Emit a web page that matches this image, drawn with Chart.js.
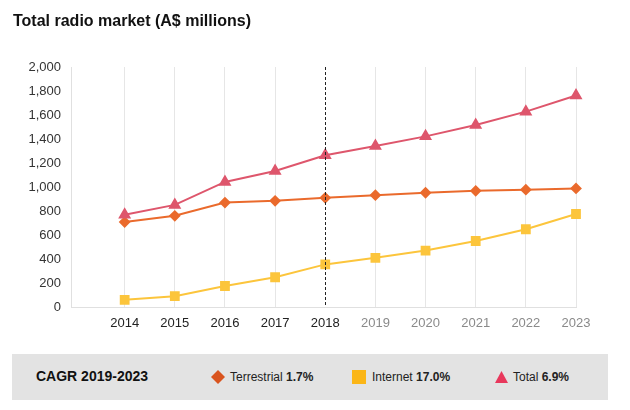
<!DOCTYPE html>
<html>
<head>
<meta charset="utf-8">
<script src="https://cdn.jsdelivr.net/npm/chart.js@4"></script>
<style>
  body { margin: 0; background: #fff; font-family: "Liberation Sans", Arial, sans-serif; }
  #wrap { position: relative; width: 630px; height: 410px; }
  #title { position: absolute; left: 13px; top: 12px; font-size: 16px; font-weight: bold; color: #111; }
  #chart { position: absolute; left: 0; top: 0; }
  #cagr { position: absolute; left: 12px; top: 354px; width: 596px; height: 46px; background: #e3e3e3; font-size: 12px; color: #222; }
  #cagr span.item { position: absolute; top: 16px; white-space: nowrap; }
  #cagr b { font-weight: bold; }
  .mark { position: absolute; }
</style>
</head>
<body>
<div id="wrap">
  <canvas id="chart" width="630" height="410"></canvas>
  <div id="title">Total radio market (A$ millions)</div>
  <div id="cagr">
    <span class="item" style="left:24px;top:14px;font-size:14px;font-weight:bold;color:#111">CAGR 2019-2023</span>
    <svg class="mark" style="left:199px;top:16px" width="14" height="14"><polygon points="7,0 14,7 7,14 0,7" fill="#d9541e"/></svg>
    <span class="item" style="left:218px">Terrestrial <b>1.7%</b></span>
    <svg class="mark" style="left:340px;top:16px" width="14" height="14"><rect x="0" y="0" width="14" height="14" fill="#fbb617"/></svg>
    <span class="item" style="left:360px">Internet <b>17.0%</b></span>
    <svg class="mark" style="left:483px;top:17px" width="13" height="12"><polygon points="6.5,0 13,12 0,12" fill="#e8385c"/></svg>
    <span class="item" style="left:501px">Total <b>6.9%</b></span>
  </div>
</div>
<script>
const years = [2014, 2015, 2016, 2017, 2018, 2019, 2020, 2021, 2022, 2023];
const terrestrial = [708, 760, 870, 885, 910, 932, 952, 968, 978, 988];
const internet = [60, 90, 175, 248, 355, 410, 470, 550, 648, 775];
const total = [768, 851, 1042, 1133, 1265, 1342, 1422, 1516, 1628, 1763];
const yTicks = [0, 200, 400, 600, 800, 1000, 1200, 1400, 1600, 1800, 2000];
const forecastStart = 2018;

const pts = arr => years.map((y, i) => ({ x: y, y: arr[i] }));

const dashLine = {
  id: 'dashLine',
  afterDatasetsDraw(chart) {
    const { ctx, chartArea, scales } = chart;
    const x = Math.round(scales.x.getPixelForValue(forecastStart)) + 0.5;
    ctx.save();
    ctx.strokeStyle = '#222';
    ctx.lineWidth = 1;
    ctx.setLineDash([3, 2]);
    ctx.beginPath();
    ctx.moveTo(x, chartArea.top);
    ctx.lineTo(x, chartArea.bottom);
    ctx.stroke();
    ctx.restore();
  }
};

Chart.defaults.font.family = '"Liberation Sans", Arial, sans-serif';

new Chart(document.getElementById('chart'), {
  type: 'line',
  data: {
    datasets: [
      {
        label: 'Total',
        data: pts(total),
        borderColor: '#de566c',
        backgroundColor: '#de566c',
        borderWidth: 2,
        pointStyle: 'triangle',
        pointRadius: 5.5,
        tension: 0,
        clip: false
      },
      {
        label: 'Terrestrial',
        data: pts(terrestrial),
        borderColor: '#ea6a2c',
        backgroundColor: '#ea6a2c',
        borderWidth: 2,
        pointStyle: 'rectRot',
        pointRadius: 4.5,
        tension: 0,
        clip: false
      },
      {
        label: 'Internet',
        data: pts(internet),
        borderColor: '#fcc53c',
        backgroundColor: '#fcc53c',
        borderWidth: 2,
        pointStyle: 'rect',
        pointRadius: 5.5,
        tension: 0,
        clip: false
      }
    ]
  },
  options: {
    responsive: false,
    animation: false,
    locale: 'en-US',
    layout: { padding: { top: 67, right: 54, bottom: 73, left: 0 } },
    scales: {
      x: {
        type: 'linear',
        min: 2012.93,
        max: 2023,
        afterBuildTicks: s => { s.ticks = years.map(v => ({ value: v })); },
        afterFit: s => { s.height = 30; },
        grid: {
          drawTicks: false,
          color: c => (c.tick && c.tick.value === forecastStart) ? 'rgba(0,0,0,0)' : '#e6e6e6'
        },
        border: { color: '#e0e0e0' },
        ticks: {
          padding: 9,
          font: { size: 13 },
          color: c => c.tick.value <= forecastStart ? '#222' : '#8a8a8a',
          callback: v => String(v),
          maxRotation: 0
        }
      },
      y: {
        min: 0,
        max: 2000,
        afterBuildTicks: s => { s.ticks = yTicks.map(v => ({ value: v })); },
        afterFit: s => { s.width = 71; },
        grid: { display: false, drawTicks: false },
        border: { color: '#e0e0e0' },
        ticks: { padding: 10, font: { size: 13 }, color: '#333' }
      }
    },
    plugins: {
      legend: { display: false },
      tooltip: { enabled: false }
    }
  },
  plugins: [dashLine]
});
</script>
</body>
</html>
